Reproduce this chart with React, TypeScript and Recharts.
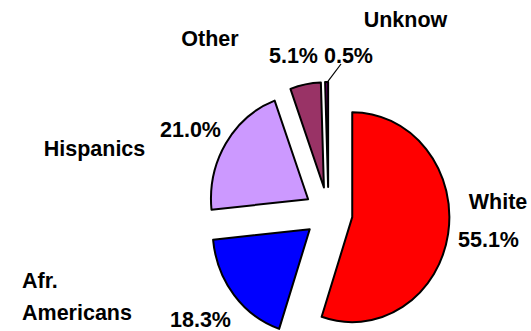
import { PieChart, Pie, Cell, Sector } from "recharts";

const groups = ["White", "Afr. Americans", "Hispanics", "Other", "Unknow"];
const shares = [55.1, 18.3, 21.0, 5.1, 0.5];
const colors = ["#FF0000", "#0000FF", "#CC99FF", "#993366", "#660066"];

const data = groups.map((name, i) => ({ name, value: shares[i] }));

const CX = 328.5;
const CY = 213;
const RADIUS = 105;
const EXPLODE = 26; // distance each slice is pulled out from the centre
const SQUASH = 0.925; // pie is drawn a little narrower than tall

const RAD = Math.PI / 180;
const pulled = (cx: number, cy: number, midAngle: number, dist: number) => ({
  x: cx + dist * Math.cos(-midAngle * RAD),
  y: cy + dist * Math.sin(-midAngle * RAD),
});
const squashX = (x: number) => CX + (x - CX) * SQUASH;

// where the name / percentage of each slice goes
const labelSpots: Record<string, { name: [number, number]; pct: [number, number] }> = {
  White: { name: [498, 209], pct: [488.5, 247] },
  "Afr. Americans": { name: [22, 288], pct: [200.5, 327] },
  Hispanics: { name: [94.5, 156], pct: [190.5, 137] },
  Other: { name: [210, 46], pct: [293.5, 63] },
  Unknow: { name: [405.5, 27], pct: [348.5, 63] },
};

const font = {
  fontFamily: "'Liberation Sans', Arial, sans-serif",
  fontWeight: "bold" as const,
  fontSize: 21.5,
  fill: "#000",
};

const ExplodedSlice = (props: any) => {
  const { cx, cy, midAngle, innerRadius, outerRadius, startAngle, endAngle, fill } = props;
  const c = pulled(cx, cy, midAngle, EXPLODE);
  return (
    <g transform={`translate(${CX} 0) scale(${SQUASH} 1) translate(${-CX} 0)`}>
      <Sector
        cx={c.x}
        cy={c.y}
        innerRadius={innerRadius}
        outerRadius={outerRadius}
        startAngle={startAngle}
        endAngle={endAngle}
        fill={fill}
        stroke="#000"
        strokeWidth={2}
        strokeLinejoin="round"
        vectorEffect="non-scaling-stroke"
      />
    </g>
  );
};

const SliceLabel = (props: any) => {
  const { cx, cy, midAngle, outerRadius, name, value } = props;
  const spot = labelSpots[name];
  if (!spot) return null;
  const pct = `${Number(value).toFixed(1)}%`;
  let leader = null;
  if (name === "Unknow") {
    const c = pulled(cx, cy, midAngle, EXPLODE);
    const edge = pulled(c.x, c.y, midAngle, outerRadius);
    leader = (
      <line x1={341} y1={64} x2={squashX(edge.x)} y2={edge.y + 1} stroke="#000" strokeWidth={1.2} />
    );
  }
  const nameText =
    name === "Afr. Americans" ? (
      <text x={spot.name[0]} y={spot.name[1]} textAnchor="start" {...font}>
        <tspan x={spot.name[0]}>Afr.</tspan>
        <tspan x={spot.name[0]} dy={32}>
          Americans
        </tspan>
      </text>
    ) : (
      <text x={spot.name[0]} y={spot.name[1]} textAnchor="middle" {...font}>
        {name}
      </text>
    );
  return (
    <g>
      {leader}
      {nameText}
      <text x={spot.pct[0]} y={spot.pct[1]} textAnchor="middle" {...font}>
        {pct}
      </text>
    </g>
  );
};

export default function App() {
  return (
    <div style={{ position: "absolute", left: 0, top: 0, width: 531, height: 331, background: "#fff" }}>
      <PieChart width={531} height={331} margin={{ top: 0, right: 0, bottom: 0, left: 0 }}>
        <Pie
          data={data}
          dataKey="value"
          nameKey="name"
          cx={CX}
          cy={CY}
          outerRadius={RADIUS}
          startAngle={90}
          endAngle={-270}
          shape={ExplodedSlice}
          label={SliceLabel}
          labelLine={false}
          isAnimationActive={false}
        >
          {data.map((d, i) => (
            <Cell key={d.name} fill={colors[i]} />
          ))}
        </Pie>
      </PieChart>
    </div>
  );
}
